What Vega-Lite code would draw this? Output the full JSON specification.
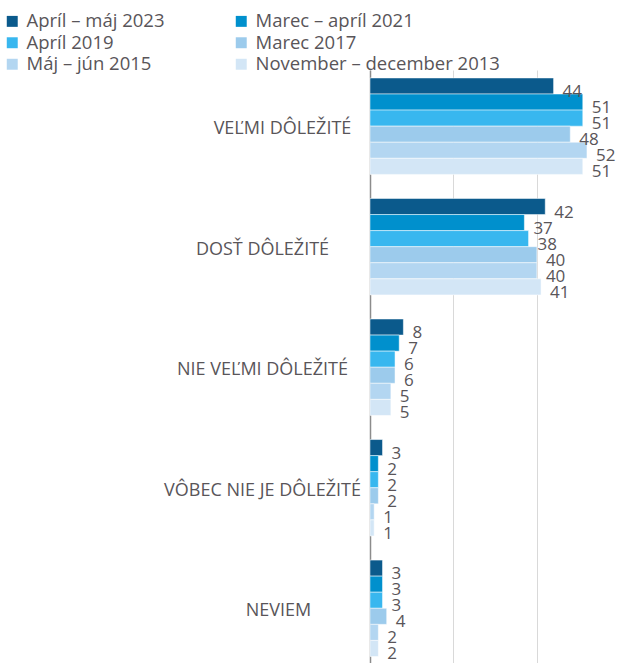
{
  "$schema": "https://vega.github.io/schema/vega-lite/v6.json",
  "autosize": {"type": "none"},
  "padding": {"left": 370, "top": 70, "right": 0, "bottom": 0},
  "width": 247,
  "height": 593,
  "background": "white",
  "config": {
    "font": "Open Sans",
    "view": {"stroke": null}
  },
  "data": {
    "values": [
      {"cat": "VEĽMI DÔLEŽITÉ", "series": "Apríl – máj 2023", "value": 44},
      {"cat": "VEĽMI DÔLEŽITÉ", "series": "Marec – apríl 2021", "value": 51},
      {"cat": "VEĽMI DÔLEŽITÉ", "series": "Apríl 2019", "value": 51},
      {"cat": "VEĽMI DÔLEŽITÉ", "series": "Marec 2017", "value": 48},
      {"cat": "VEĽMI DÔLEŽITÉ", "series": "Máj – jún 2015", "value": 52},
      {"cat": "VEĽMI DÔLEŽITÉ", "series": "November – december 2013", "value": 51},
      {"cat": "DOSŤ DÔLEŽITÉ", "series": "Apríl – máj 2023", "value": 42},
      {"cat": "DOSŤ DÔLEŽITÉ", "series": "Marec – apríl 2021", "value": 37},
      {"cat": "DOSŤ DÔLEŽITÉ", "series": "Apríl 2019", "value": 38},
      {"cat": "DOSŤ DÔLEŽITÉ", "series": "Marec 2017", "value": 40},
      {"cat": "DOSŤ DÔLEŽITÉ", "series": "Máj – jún 2015", "value": 40},
      {"cat": "DOSŤ DÔLEŽITÉ", "series": "November – december 2013", "value": 41},
      {"cat": "NIE VEĽMI DÔLEŽITÉ", "series": "Apríl – máj 2023", "value": 8},
      {"cat": "NIE VEĽMI DÔLEŽITÉ", "series": "Marec – apríl 2021", "value": 7},
      {"cat": "NIE VEĽMI DÔLEŽITÉ", "series": "Apríl 2019", "value": 6},
      {"cat": "NIE VEĽMI DÔLEŽITÉ", "series": "Marec 2017", "value": 6},
      {"cat": "NIE VEĽMI DÔLEŽITÉ", "series": "Máj – jún 2015", "value": 5},
      {"cat": "NIE VEĽMI DÔLEŽITÉ", "series": "November – december 2013", "value": 5},
      {"cat": "VÔBEC NIE JE DÔLEŽITÉ", "series": "Apríl – máj 2023", "value": 3},
      {"cat": "VÔBEC NIE JE DÔLEŽITÉ", "series": "Marec – apríl 2021", "value": 2},
      {"cat": "VÔBEC NIE JE DÔLEŽITÉ", "series": "Apríl 2019", "value": 2},
      {"cat": "VÔBEC NIE JE DÔLEŽITÉ", "series": "Marec 2017", "value": 2},
      {"cat": "VÔBEC NIE JE DÔLEŽITÉ", "series": "Máj – jún 2015", "value": 1},
      {"cat": "VÔBEC NIE JE DÔLEŽITÉ", "series": "November – december 2013", "value": 1},
      {"cat": "NEVIEM", "series": "Apríl – máj 2023", "value": 3},
      {"cat": "NEVIEM", "series": "Marec – apríl 2021", "value": 3},
      {"cat": "NEVIEM", "series": "Apríl 2019", "value": 3},
      {"cat": "NEVIEM", "series": "Marec 2017", "value": 4},
      {"cat": "NEVIEM", "series": "Máj – jún 2015", "value": 2},
      {"cat": "NEVIEM", "series": "November – december 2013", "value": 2}
    ]
  },
  "encoding": {
    "y": {
      "field": "cat", "type": "nominal", "sort": null, "title": null,
      "scale": {"paddingInner": 0.2, "paddingOuter": 0.06, "align": 0.55},
      "axis": {
        "ticks": false, "domain": true, "domainColor": "#8c8c8c", "domainWidth": 1.5,
        "labelFontSize": 18, "labelColor": "#595559", "labelFont": "Open Sans", "labelLimit": 300,
        "labelAlign": "center", "labelBaseline": "middle", "labelOffset": 3,
        "labelPadding": {
          "condition": [
            {"test": "datum.value === 'VEĽMI DÔLEŽITÉ'", "value": 88},
            {"test": "datum.value === 'NEVIEM'", "value": 92}
          ],
          "value": 108
        }
      }
    },
    "yOffset": {
      "field": "series", "type": "nominal", "sort": null,
      "scale": {"paddingInner": 0, "paddingOuter": 0}
    },
    "x": {
      "field": "value", "type": "quantitative", "title": null,
      "scale": {"domain": [0, 59.2], "nice": false},
      "axis": {
        "values": [0, 20, 40], "labels": false, "ticks": false, "domain": false,
        "grid": true, "gridColor": "#d9d9d9", "gridWidth": 1
      }
    }
  },
  "layer": [
    {
      "mark": {"type": "bar", "stroke": "white", "strokeWidth": 0.5},
      "encoding": {
        "color": {
          "field": "series", "type": "nominal", "title": null,
          "scale": {
            "domain": ["Apríl – máj 2023", "Apríl 2019", "Máj – jún 2015", "Marec – apríl 2021", "Marec 2017", "November – december 2013"],
            "range": ["#0b5a8c", "#38b7ef", "#b3d6f1", "#0090cd", "#9ccbec", "#d3e6f6"]
          },
          "legend": {
            "orient": "none", "legendX": -367, "legendY": -58, "columns": 2,
            "symbolType": "square", "symbolSize": 120, "symbolStrokeWidth": 0,
            "labelFontSize": 18.5, "labelColor": "#595559", "labelFont": "Open Sans",
            "columnPadding": 67, "rowPadding": 2.5, "labelOffset": 5, "labelLimit": 400
          }
        }
      }
    },
    {
      "mark": {"type": "text", "align": "left", "baseline": "middle", "dx": 9, "dy": 6, "fontSize": 17, "color": "#595559"},
      "encoding": {
        "text": {"field": "value", "type": "quantitative"}
      }
    }
  ]
}
